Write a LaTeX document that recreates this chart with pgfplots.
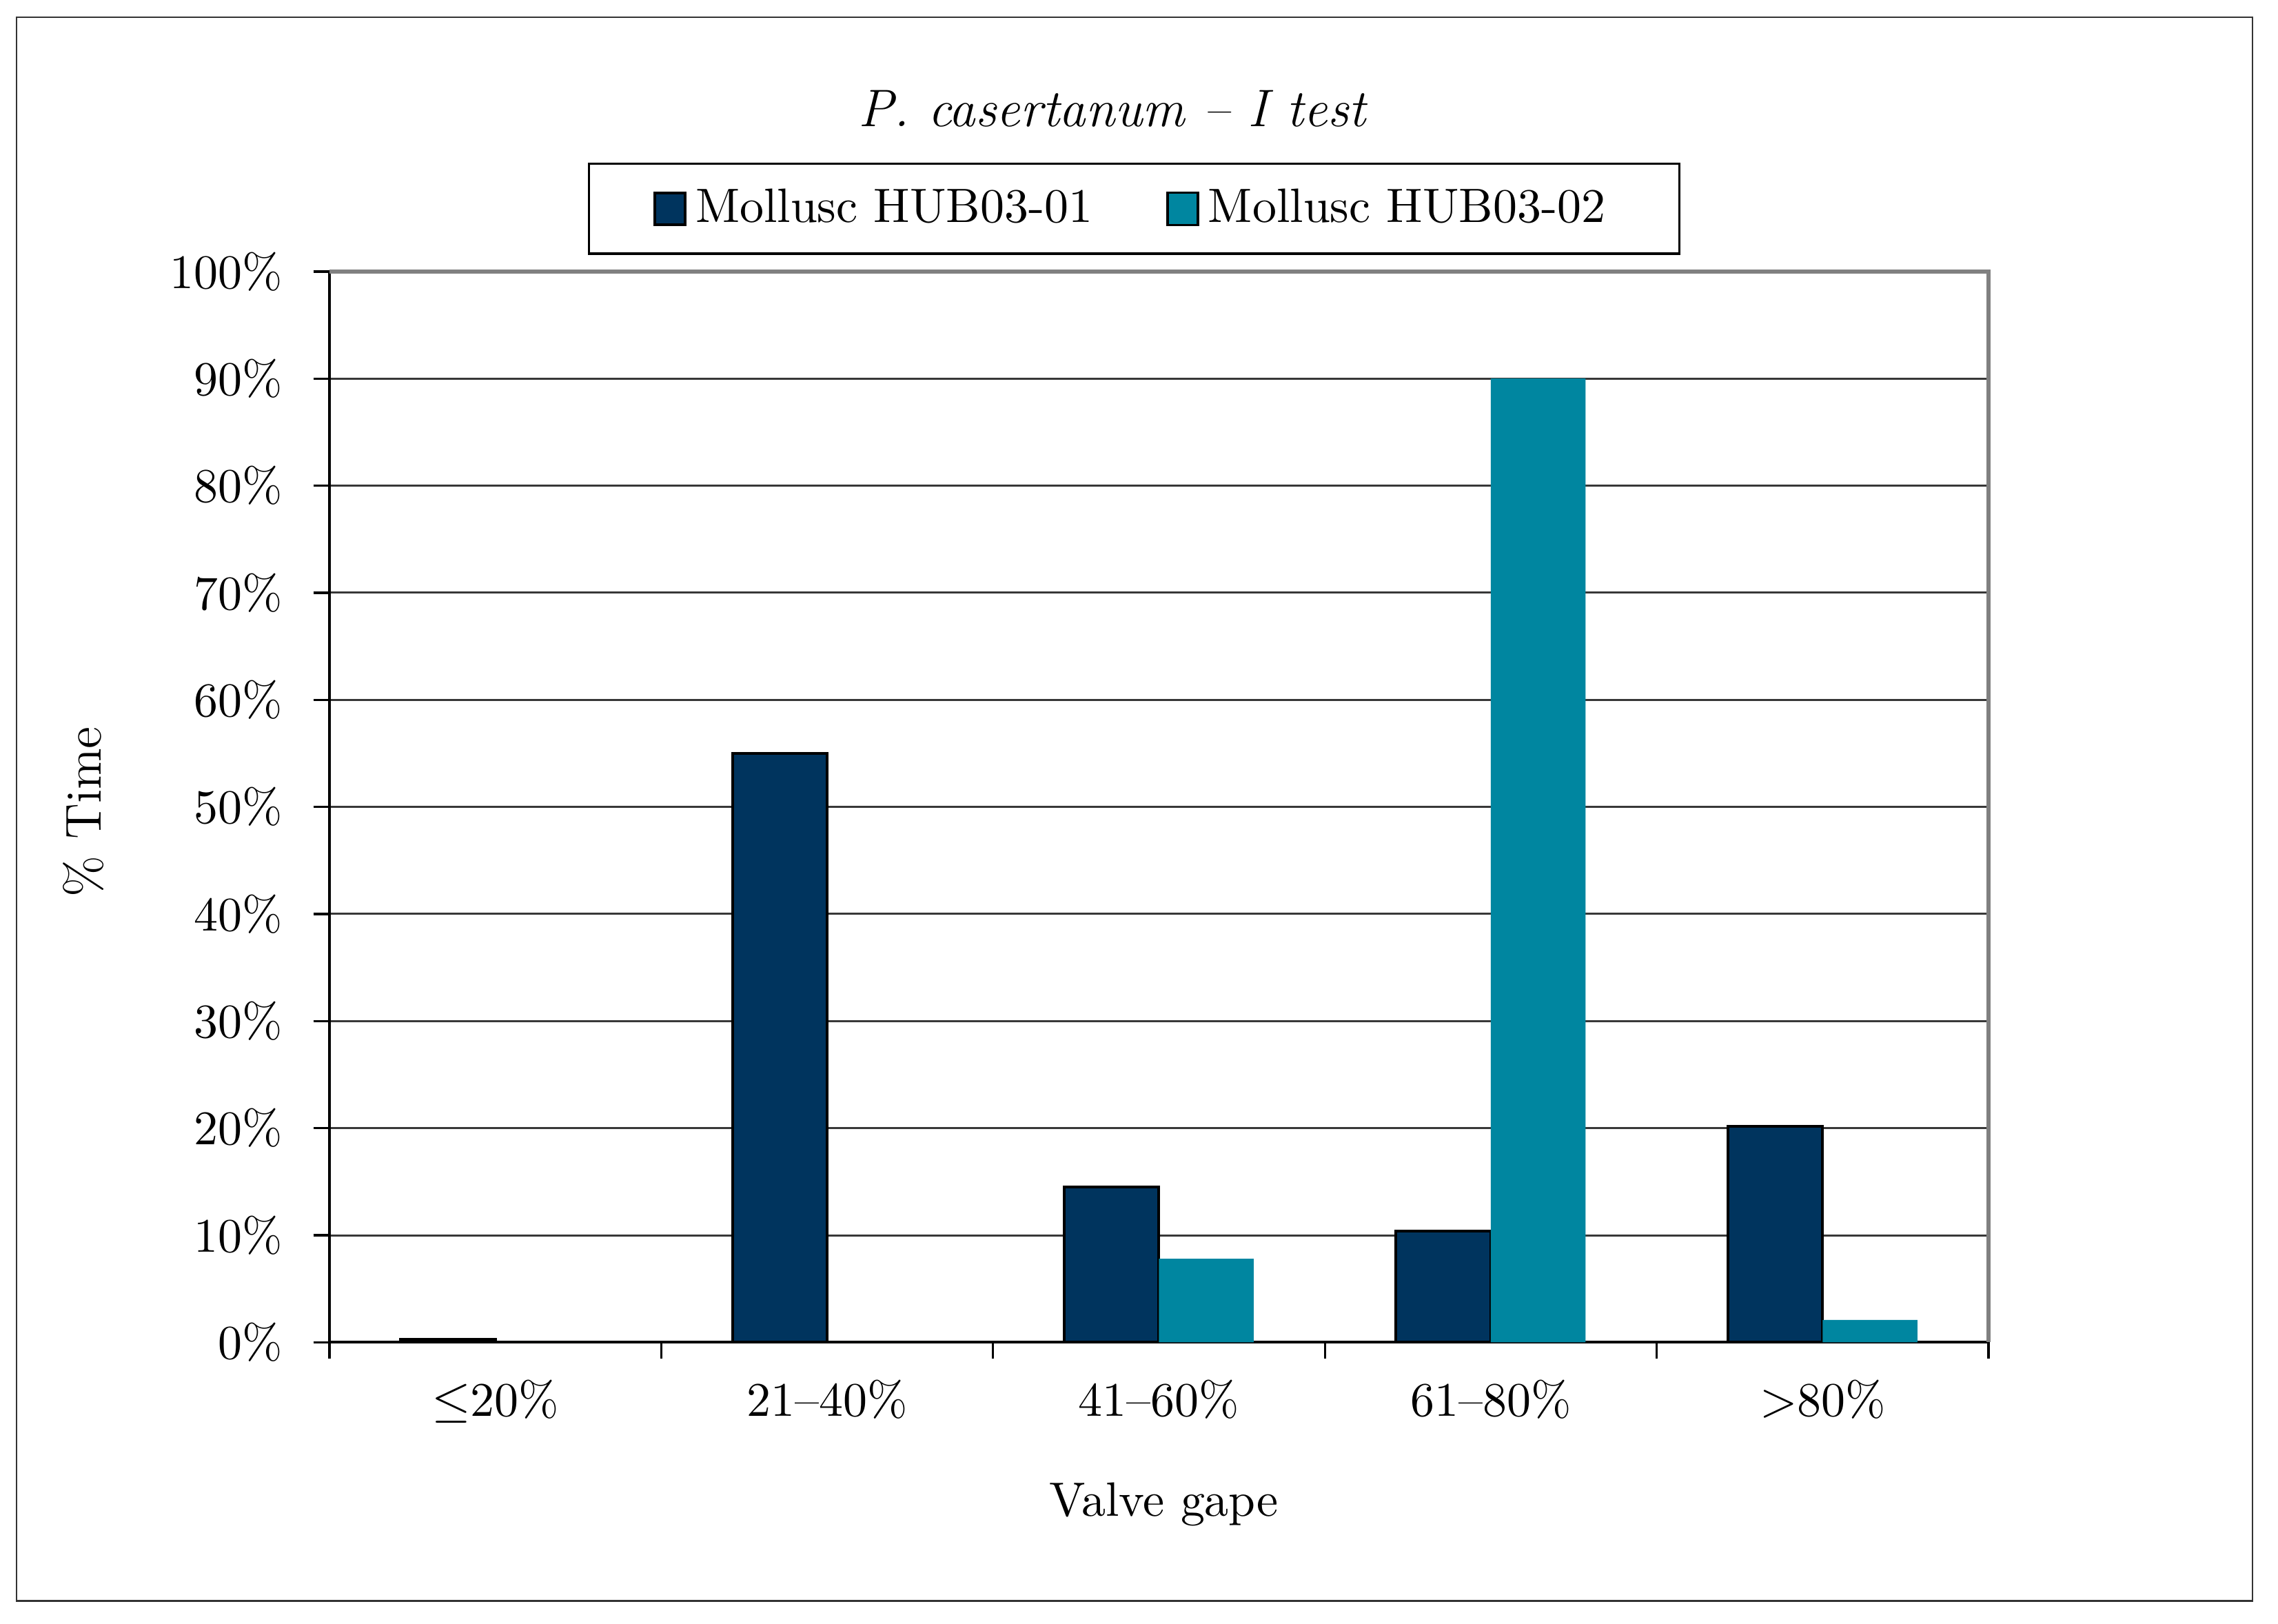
\documentclass[border=0pt]{standalone}
\usepackage{pgfplots}
\pgfplotsset{compat=1.18}
\definecolor{navy}{RGB}{0,52,94}
\definecolor{tealbar}{RGB}{0,134,160}
\pgfplotsset{sqlegend/.style={legend image code/.code={\draw[##1] (0pt,-3.5pt) rectangle (6.6pt,3.5pt);}}}
\begin{document}
\begin{tikzpicture}
\begin{axis}[
  name=ax,
  scale only axis, width=361.2pt, height=233.1pt,
  xmin=-0.5, xmax=4.5, ymin=0, ymax=100,
  axis lines*=left,
  axis line style={black, line width=0.6pt},
  xtick={-0.5,0.5,1.5,2.5,3.5,4.5},
  x tick label as interval,
  xticklabels={$\leq$20\%,21--40\%,41--60\%,61--80\%,>80\%},
  ytick={0,10,...,100},
  yticklabel={\pgfmathprintnumber{\tick}\%},
  /pgf/number format/assume math mode=true,
  tick align=outside,
  major tick length=3.5pt,
  tick style={black, line width=0.5pt},
  ymajorgrids,
  grid style={draw=black!78, line width=0.45pt},
  tick label style={font=\fontsize{10.5}{12}\selectfont},
  yticklabel style={anchor=east, inner sep=0pt, xshift=-6.5pt},
  xticklabel style={anchor=base, inner sep=0pt, yshift=-12.5pt},
  title={P. casertanum -- I test},
  title style={at={(axis description cs:0.4718,1.1094)}, anchor=base, font=\fontsize{11.5}{13}\selectfont\itshape},
  xlabel={Valve gape},
  xlabel style={at={(axis description cs:0.503,-0.1622)}, anchor=base, font=\fontsize{10.5}{12}\selectfont},
  ylabel={\% Time},
  ylabel style={at={(axis description cs:-0.1484,0.4954)}, anchor=center, font=\fontsize{11}{13}\selectfont},
  legend columns=2,
  legend style={at={(axis description cs:0.4850,1.0586)}, anchor=center, draw=black, line width=0.5pt,
    inner xsep=14pt, inner ysep=3.4pt, font=\fontsize{10.5}{12}\selectfont,
    /tikz/every even column/.append style={column sep=14pt}},
]
\addplot[ybar, bar width=0.2855, bar shift=-0.14275, fill=navy, draw=black, line width=0.6pt, sqlegend]
  coordinates {(0,0.3) (1,55) (2,14.5) (3,10.4) (4,20.2)};
\addlegendentry{Mollusc HUB03-01}
\addplot[ybar, bar width=0.2855, bar shift=0.14275, fill=tealbar, draw=none, sqlegend]
  coordinates {(0,0) (1,0) (2,7.8) (3,90) (4,2.1)};
\addlegendentry{Mollusc HUB03-02}
\end{axis}
\draw[gray, line width=0.8pt] (ax.north west) -- (ax.north east) -- (ax.south east);
\draw[black!80, line width=0.4pt] ([xshift=-68.1pt,yshift=-56.25pt]ax.south west) rectangle ([xshift=57.45pt,yshift=55.35pt]ax.north east);
\pgfresetboundingbox
\useasboundingbox ([xshift=-71.7pt,yshift=-61.2pt]ax.south west) rectangle ([xshift=63pt,yshift=59.1pt]ax.north east);
\end{tikzpicture}
\end{document}
